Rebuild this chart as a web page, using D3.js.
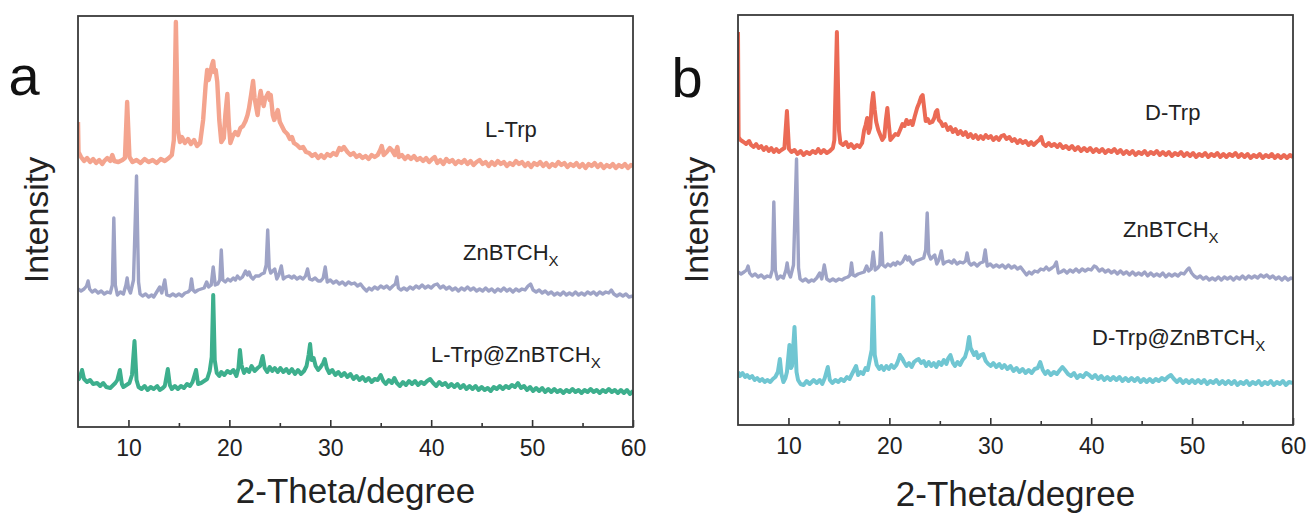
<!DOCTYPE html>
<html>
<head>
<meta charset="utf-8">
<script src="https://cdn.jsdelivr.net/npm/d3@7"></script>
<style>
html, body { margin: 0; padding: 0; background: #fff; }
svg { display: block; font-family: Arial, "Liberation Sans", Helvetica, sans-serif; }
</style>
</head>
<body>
<svg id="chart" width="1314" height="516"></svg>
<script>
// 2-theta (degree) vs intensity (a.u.)
var thetaTicks = [10, 20, 30, 40, 50, 60];
var thetaMinorTicks = [15, 25, 35, 45, 55];

var lTrp = [[5.0,305],[5.05,275],[5.3,270],[5.6,266],[5.9,269],[6.2,265],[6.5,268],[6.8,264],[7.1,267],[7.4,263],[7.6,266],[7.9,269],[8.2,266],[8.4,272],[8.6,266],[9.0,265],[9.4,267],[9.65,269],[9.87,325],[10.1,270],[10.4,265],[10.8,267],[11.2,264],[11.6,268],[12.0,265],[12.4,267],[12.8,264],[13.2,268],[13.6,266],[14.0,269],[14.3,272],[14.5,287],[14.7,405],[14.9,297],[15.1,285],[15.3,290],[15.6,284],[15.9,288],[16.2,283],[16.5,287],[16.8,281],[17.1,284],[17.4,307],[17.65,342],[17.8,357],[17.95,347],[18.1,353],[18.25,361],[18.4,366],[18.5,355],[18.65,357],[18.8,345],[19.0,307],[19.2,285],[19.45,289],[19.6,312],[19.8,333],[19.95,302],[20.1,284],[20.35,291],[20.6,295],[20.85,292],[21.1,299],[21.35,301],[21.6,306],[21.8,312],[21.95,319],[22.15,332],[22.35,346],[22.5,329],[22.65,320],[22.8,312],[22.95,327],[23.1,336],[23.25,327],[23.4,321],[23.55,329],[23.7,331],[23.85,334],[24.0,327],[24.1,332],[24.3,312],[24.45,307],[24.6,311],[24.8,317],[25.0,305],[25.2,301],[25.45,296],[25.75,293],[26.0,288],[26.2,290],[26.4,284],[26.7,282],[27.0,279],[27.3,280],[27.6,275],[27.9,274],[28.2,271],[28.5,273],[28.8,269],[29.1,272],[29.4,269],[29.7,273],[30.0,271],[30.3,274],[30.6,272],[30.9,279],[31.1,277],[31.35,280],[31.7,275],[32.0,272],[32.3,274],[32.6,270],[32.9,272],[33.2,269],[33.5,271],[33.8,268],[34.1,272],[34.4,270],[34.7,272],[34.95,277],[35.1,281],[35.3,272],[35.6,275],[35.9,279],[36.1,277],[36.4,272],[36.65,280],[36.8,270],[37.1,272],[37.4,268],[37.7,271],[38.0,268],[38.3,271],[38.6,267],[38.9,269],[39.2,266],[39.5,269],[39.8,265],[40.1,268],[40.35,270],[40.6,264],[40.9,267],[41.2,263],[41.5,268],[41.8,265],[42.1,267],[42.4,263],[42.7,266],[43.0,264],[43.3,267],[43.6,263],[43.9,266],[44.2,262],[44.5,265],[44.8,267],[45.1,263],[45.4,265],[45.7,261],[46.0,265],[46.3,262],[46.6,266],[46.9,263],[47.2,265],[47.5,261],[47.8,264],[48.1,262],[48.4,266],[48.7,263],[49.0,265],[49.3,261],[49.6,264],[49.9,260],[50.2,264],[50.5,262],[50.8,265],[51.1,261],[51.4,264],[51.7,260],[52.0,263],[52.3,261],[52.6,265],[52.9,262],[53.2,264],[53.5,260],[53.8,263],[54.1,261],[54.4,264],[54.7,260],[55.0,263],[55.3,259],[55.6,263],[55.9,261],[56.2,264],[56.5,260],[56.8,263],[57.1,259],[57.4,262],[57.7,260],[58.0,263],[58.3,259],[58.6,262],[58.9,260],[59.2,263],[59.5,259],[59.8,262],[60.0,261]];

var znbtchA = [[5.0,138],[5.3,136],[5.6,138],[5.85,141],[6.0,146],[6.15,138],[6.4,135],[6.7,137],[7.0,134],[7.3,136],[7.6,133],[7.9,135],[8.2,134],[8.4,142],[8.55,209],[8.7,142],[8.9,132],[9.2,135],[9.5,133],[9.75,142],[9.87,149],[10.0,139],[10.2,134],[10.5,147],[10.8,251],[11.0,145],[11.15,133],[11.4,131],[11.7,133],[12.0,130],[12.3,132],[12.5,130],[12.8,135],[13.1,140],[13.3,134],[13.6,147],[13.8,132],[14.1,131],[14.4,133],[14.7,131],[15.0,133],[15.3,131],[15.6,134],[15.9,135],[16.1,137],[16.25,148],[16.4,137],[16.6,135],[16.9,137],[17.2,138],[17.5,139],[17.75,145],[17.95,140],[18.2,142],[18.4,160],[18.6,142],[18.85,143],[19.05,147],[19.2,177],[19.35,147],[19.6,145],[19.85,148],[20.1,146],[20.4,149],[20.6,147],[20.8,151],[21.05,148],[21.3,150],[21.6,156],[21.8,152],[21.95,155],[22.15,150],[22.35,148],[22.6,151],[22.95,151],[23.2,153],[23.45,154],[23.65,162],[23.8,197],[23.95,159],[24.1,154],[24.3,156],[24.5,158],[24.7,148],[24.9,152],[25.15,161],[25.35,148],[25.6,150],[25.9,151],[26.2,149],[26.4,151],[26.7,148],[27.0,150],[27.3,148],[27.55,151],[27.75,158],[27.95,148],[28.2,147],[28.5,149],[28.8,146],[29.05,146],[29.3,149],[29.5,160],[29.7,145],[30.0,147],[30.3,144],[30.6,146],[30.9,143],[31.2,145],[31.5,142],[31.8,145],[32.1,143],[32.4,144],[32.7,141],[33.0,143],[33.3,139],[33.6,136],[33.85,139],[34.1,137],[34.4,140],[34.7,138],[35.0,141],[35.3,139],[35.6,141],[35.9,138],[36.2,141],[36.45,143],[36.6,150],[36.75,139],[37.0,137],[37.3,139],[37.6,137],[37.9,140],[38.2,138],[38.5,141],[38.8,139],[39.1,142],[39.4,139],[39.7,141],[40.0,139],[40.3,142],[40.6,143],[40.9,139],[41.2,141],[41.5,138],[41.8,140],[42.1,137],[42.4,139],[42.7,136],[43.0,139],[43.3,137],[43.6,140],[43.9,137],[44.2,139],[44.5,136],[44.8,138],[45.1,136],[45.4,139],[45.7,136],[46.0,138],[46.3,135],[46.6,138],[46.9,136],[47.2,139],[47.5,136],[47.8,138],[48.1,135],[48.4,138],[48.7,136],[49.0,138],[49.3,137],[49.6,141],[49.85,143],[50.1,137],[50.4,135],[50.7,137],[51.0,134],[51.3,136],[51.6,133],[51.9,135],[52.2,132],[52.5,134],[52.8,132],[53.1,135],[53.4,132],[53.7,134],[54.0,132],[54.3,135],[54.6,132],[54.9,134],[55.2,132],[55.5,135],[55.8,133],[56.1,135],[56.4,132],[56.7,135],[57.0,133],[57.3,135],[57.6,134],[57.85,137],[58.1,133],[58.4,131],[58.7,133],[59.0,131],[59.3,133],[59.6,130],[60.0,131]];

var lTrpZn = [[5.0,47],[5.15,49],[5.4,57],[5.6,48],[5.9,45],[6.2,47],[6.5,43],[6.9,44],[7.2,41],[7.5,44],[7.8,40],[8.2,39],[8.5,42],[8.7,44],[8.9,47],[9.15,57],[9.35,43],[9.5,40],[9.8,42],[10.1,44],[10.35,52],[10.6,86],[10.8,47],[11.0,40],[11.3,38],[11.6,41],[11.9,37],[12.2,40],[12.5,38],[12.85,41],[13.1,37],[13.4,39],[13.6,41],[13.9,58],[14.1,42],[14.3,38],[14.6,41],[14.9,38],[15.2,41],[15.5,39],[15.8,43],[16.1,41],[16.35,45],[16.7,57],[16.9,43],[17.2,44],[17.5,46],[17.8,48],[18.05,56],[18.25,70],[18.4,132],[18.55,67],[18.75,54],[19.0,51],[19.2,55],[19.5,52],[19.8,56],[20.1,54],[20.4,57],[20.7,51],[20.9,59],[21.05,77],[21.2,62],[21.45,54],[21.7,58],[21.95,55],[22.2,61],[22.5,56],[22.8,59],[23.05,61],[23.3,71],[23.5,59],[23.75,55],[24.0,60],[24.25,56],[24.5,59],[24.8,55],[25.05,59],[25.35,55],[25.65,58],[25.9,54],[26.2,58],[26.5,53],[26.8,57],[27.1,53],[27.4,56],[27.65,61],[27.85,72],[28.0,83],[28.15,67],[28.35,69],[28.55,61],[28.8,57],[29.05,60],[29.3,64],[29.45,68],[29.65,59],[29.9,54],[30.2,57],[30.5,52],[30.8,55],[31.1,51],[31.4,54],[31.7,50],[32.0,53],[32.3,48],[32.6,51],[32.9,47],[33.2,50],[33.5,46],[33.8,49],[34.1,45],[34.4,48],[34.7,47],[35.0,52],[35.25,46],[35.5,43],[35.8,47],[36.1,44],[36.35,49],[36.6,44],[36.9,41],[37.2,45],[37.5,42],[37.8,46],[38.1,43],[38.4,46],[38.7,42],[39.0,45],[39.3,43],[39.6,46],[39.9,48],[40.2,44],[40.5,41],[40.8,45],[41.1,42],[41.4,44],[41.7,40],[42.0,43],[42.3,40],[42.6,43],[42.9,39],[43.2,42],[43.5,38],[43.8,41],[44.1,38],[44.4,41],[44.7,37],[45.0,40],[45.3,37],[45.6,39],[45.9,36],[46.2,40],[46.5,38],[46.8,41],[47.1,38],[47.4,41],[47.7,39],[48.0,42],[48.3,40],[48.6,44],[48.9,39],[49.2,41],[49.5,37],[49.8,40],[50.1,36],[50.4,39],[50.7,36],[51.0,39],[51.3,35],[51.6,38],[51.9,35],[52.2,38],[52.5,35],[52.8,37],[53.1,34],[53.4,37],[53.7,35],[54.0,38],[54.3,35],[54.6,37],[54.9,34],[55.2,37],[55.5,35],[55.8,38],[56.1,35],[56.4,37],[56.7,34],[57.0,37],[57.3,35],[57.6,38],[57.9,35],[58.2,37],[58.5,34],[58.8,37],[59.1,34],[59.4,37],[59.7,33],[60.0,36]];

var dTrp = [[5.0,393],[5.06,288],[5.25,285],[5.55,283],[5.8,281],[6.1,284],[6.3,280],[6.55,278],[6.8,281],[7.05,277],[7.3,279],[7.55,275],[7.8,278],[8.05,274],[8.3,277],[8.55,273],[8.8,276],[9.05,273],[9.3,275],[9.6,277],[9.85,314],[10.05,276],[10.3,273],[10.6,275],[10.9,271],[11.2,274],[11.5,270],[11.8,273],[12.1,271],[12.4,274],[12.7,272],[12.95,276],[13.2,272],[13.5,275],[13.8,272],[14.1,274],[14.4,277],[14.55,285],[14.8,393],[15.0,295],[15.15,282],[15.4,280],[15.7,283],[15.95,278],[16.2,281],[16.5,277],[16.8,280],[17.05,278],[17.3,282],[17.5,295],[17.65,300],[17.8,307],[17.95,292],[18.1,297],[18.25,320],[18.4,332],[18.55,315],[18.7,303],[18.9,295],[19.1,290],[19.3,285],[19.5,288],[19.65,305],[19.8,317],[19.95,300],[20.1,285],[20.35,288],[20.6,291],[20.85,290],[21.1,296],[21.3,301],[21.5,299],[21.7,305],[21.9,301],[22.1,304],[22.3,300],[22.5,308],[22.75,317],[22.95,322],[23.15,328],[23.3,330],[23.45,317],[23.6,304],[23.8,306],[24.0,302],[24.25,303],[24.45,307],[24.6,313],[24.75,315],[24.9,305],[25.1,303],[25.3,299],[25.55,301],[25.8,295],[26.05,298],[26.3,293],[26.55,296],[26.8,291],[27.05,294],[27.3,290],[27.55,293],[27.8,288],[28.05,291],[28.3,287],[28.55,290],[28.8,286],[29.05,289],[29.3,286],[29.55,290],[29.8,287],[30.05,289],[30.3,285],[30.6,288],[30.85,285],[31.1,289],[31.35,290],[31.6,286],[31.9,288],[32.15,284],[32.4,286],[32.7,282],[32.95,285],[33.2,282],[33.5,284],[33.8,280],[34.05,283],[34.3,280],[34.6,283],[34.85,285],[35.05,288],[35.25,281],[35.5,279],[35.8,282],[36.05,279],[36.35,281],[36.65,278],[36.9,281],[37.2,277],[37.5,279],[37.8,276],[38.1,279],[38.4,275],[38.7,278],[39.0,274],[39.3,277],[39.6,274],[39.9,277],[40.2,273],[40.5,276],[40.8,273],[41.1,276],[41.4,272],[41.7,275],[42.0,273],[42.3,276],[42.6,272],[42.9,275],[43.2,271],[43.5,274],[43.8,271],[44.1,274],[44.4,270],[44.7,273],[45.0,271],[45.3,274],[45.6,270],[45.9,273],[46.2,271],[46.5,274],[46.8,270],[47.1,273],[47.4,270],[47.7,273],[48.0,269],[48.3,272],[48.6,270],[48.9,273],[49.2,269],[49.5,272],[49.8,269],[50.1,272],[50.4,268],[50.7,271],[51.0,269],[51.3,272],[51.6,268],[51.9,271],[52.2,269],[52.5,272],[52.8,268],[53.1,271],[53.4,268],[53.7,271],[54.0,269],[54.3,272],[54.6,268],[54.9,271],[55.2,268],[55.5,271],[55.8,267],[56.1,270],[56.4,268],[56.7,271],[57.0,267],[57.3,270],[57.6,268],[57.9,271],[58.2,267],[58.5,270],[58.8,267],[59.1,270],[59.4,267],[59.7,270],[60.0,268]];

var znbtchB = [[5.0,153],[5.3,151],[5.6,153],[5.85,155],[6.0,159],[6.15,152],[6.4,149],[6.7,151],[7.0,148],[7.3,150],[7.6,147],[7.9,149],[8.2,148],[8.4,155],[8.55,223],[8.7,155],[8.9,146],[9.2,149],[9.5,147],[9.75,155],[9.87,162],[10.0,153],[10.2,148],[10.5,160],[10.8,266],[11.0,157],[11.15,146],[11.4,144],[11.7,146],[12.0,143],[12.3,145],[12.5,144],[12.8,147],[13.1,152],[13.3,146],[13.55,160],[13.8,146],[14.1,144],[14.4,146],[14.7,144],[15.0,146],[15.3,145],[15.6,147],[15.9,148],[16.1,150],[16.25,162],[16.4,150],[16.6,149],[16.9,151],[17.2,152],[17.5,153],[17.75,159],[17.95,154],[18.2,156],[18.4,173],[18.6,155],[18.85,157],[19.05,160],[19.2,192],[19.35,160],[19.6,158],[19.85,161],[20.1,159],[20.4,162],[20.6,160],[20.8,163],[21.05,161],[21.3,163],[21.6,169],[21.8,165],[21.95,168],[22.15,163],[22.35,161],[22.6,164],[22.9,165],[23.15,166],[23.4,167],[23.6,175],[23.75,212],[23.9,171],[24.1,166],[24.3,168],[24.5,170],[24.7,161],[24.9,165],[25.15,174],[25.35,161],[25.6,163],[25.9,164],[26.2,162],[26.4,165],[26.7,161],[27.0,163],[27.3,162],[27.55,164],[27.7,172],[27.9,162],[28.1,160],[28.4,162],[28.7,159],[29.0,162],[29.3,163],[29.5,175],[29.7,159],[30.0,161],[30.3,158],[30.6,160],[30.9,158],[31.2,160],[31.5,157],[31.8,160],[32.1,157],[32.4,159],[32.7,156],[33.0,158],[33.3,154],[33.6,150],[33.85,153],[34.1,151],[34.4,154],[34.7,153],[35.0,156],[35.3,155],[35.55,158],[35.8,155],[36.1,157],[36.35,159],[36.55,163],[36.75,152],[37.0,153],[37.3,155],[37.6,152],[37.9,155],[38.2,153],[38.5,156],[38.8,153],[39.1,156],[39.4,154],[39.7,156],[40.0,155],[40.3,159],[40.5,158],[40.8,154],[41.1,156],[41.4,153],[41.7,155],[42.0,152],[42.3,154],[42.6,151],[42.9,154],[43.2,151],[43.5,153],[43.8,150],[44.1,153],[44.4,150],[44.7,152],[45.0,150],[45.3,153],[45.6,149],[45.9,152],[46.2,149],[46.5,151],[46.8,149],[47.1,152],[47.4,148],[47.7,151],[48.0,149],[48.3,151],[48.6,149],[48.9,152],[49.2,151],[49.5,155],[49.7,157],[49.95,152],[50.2,149],[50.5,147],[50.8,149],[51.1,146],[51.4,148],[51.7,145],[52.0,147],[52.3,145],[52.6,148],[52.9,145],[53.2,148],[53.5,146],[53.8,148],[54.1,145],[54.4,148],[54.7,146],[55.0,149],[55.3,146],[55.6,149],[55.9,147],[56.2,149],[56.5,147],[56.8,150],[57.1,148],[57.4,150],[57.7,147],[58.0,149],[58.3,146],[58.6,148],[58.9,145],[59.2,148],[59.5,145],[59.8,147],[60.0,146]];

var dTrpZn = [[5.0,53],[5.2,49],[5.45,52],[5.7,48],[5.9,50],[6.15,47],[6.4,49],[6.65,45],[6.9,47],[7.15,44],[7.4,46],[7.65,43],[7.9,45],[8.2,43],[8.45,46],[8.7,48],[8.95,53],[9.15,66],[9.3,51],[9.5,43],[9.7,47],[9.85,53],[10.1,80],[10.25,57],[10.35,59],[10.6,98],[10.8,53],[10.95,45],[11.2,41],[11.5,40],[11.8,44],[12.1,41],[12.5,45],[12.8,42],[13.1,45],[13.35,41],[13.6,47],[13.9,58],[14.1,45],[14.35,42],[14.65,45],[14.95,43],[15.2,46],[15.5,44],[15.8,48],[16.05,46],[16.3,51],[16.7,59],[16.9,50],[17.15,53],[17.4,51],[17.65,57],[17.85,55],[18.05,65],[18.25,75],[18.4,128],[18.55,70],[18.75,60],[19.0,56],[19.2,59],[19.45,55],[19.7,59],[19.95,56],[20.2,60],[20.45,57],[20.7,60],[20.9,65],[21.05,70],[21.25,67],[21.45,63],[21.7,59],[21.95,62],[22.2,58],[22.45,63],[22.7,65],[22.9,66],[23.15,62],[23.4,64],[23.65,59],[23.9,63],[24.15,59],[24.4,62],[24.65,58],[24.9,63],[25.15,60],[25.4,65],[25.65,61],[25.85,67],[26.05,70],[26.3,62],[26.5,59],[26.75,63],[27.0,60],[27.25,65],[27.5,68],[27.7,75],[27.9,88],[28.05,77],[28.2,74],[28.4,70],[28.6,73],[28.8,67],[29.05,70],[29.3,71],[29.55,64],[29.8,61],[30.05,59],[30.3,62],[30.6,58],[30.9,61],[31.15,57],[31.4,60],[31.7,56],[32.0,59],[32.3,54],[32.6,57],[32.9,53],[33.2,56],[33.5,52],[33.8,55],[34.1,52],[34.4,56],[34.7,57],[34.95,63],[35.2,55],[35.45,51],[35.7,54],[36.0,50],[36.3,53],[36.6,51],[36.9,55],[37.15,58],[37.4,55],[37.7,51],[38.0,49],[38.3,52],[38.6,47],[38.9,50],[39.2,48],[39.5,52],[39.8,50],[40.1,47],[40.4,50],[40.7,46],[41.0,49],[41.3,45],[41.6,48],[41.9,45],[42.2,48],[42.5,45],[42.8,48],[43.1,44],[43.4,47],[43.7,44],[44.0,47],[44.3,44],[44.6,47],[44.9,43],[45.2,46],[45.5,43],[45.8,46],[46.1,43],[46.4,46],[46.7,44],[47.0,47],[47.3,45],[47.6,48],[47.9,50],[48.2,46],[48.5,43],[48.8,46],[49.1,42],[49.4,45],[49.7,42],[50.0,45],[50.3,42],[50.6,45],[50.9,42],[51.2,45],[51.5,41],[51.8,44],[52.1,42],[52.4,45],[52.7,41],[53.0,44],[53.3,41],[53.6,44],[53.9,41],[54.2,44],[54.5,40],[54.8,43],[55.1,41],[55.4,44],[55.7,40],[56.0,43],[56.3,41],[56.6,44],[56.9,40],[57.2,43],[57.5,41],[57.8,44],[58.1,40],[58.4,43],[58.7,41],[59.0,44],[59.3,40],[59.6,43],[60.0,42]];

// panel layout
var panels = [
    {
        letter: 'a', left: 78, right: 633, top: 16, bottom: 427, yMax: 411,
        letterX: 24, letterY: 95, titleY: 503,
        series: [
            {data: lTrp, color: '#f4a48e', width: 4.4, name: 'L-Trp', sub: false, lx: 485, ly: 137},
            {data: znbtchA, color: '#9ea3c6', width: 3.4, name: 'ZnBTCH', sub: true, lx: 463, ly: 260},
            {data: lTrpZn, color: '#3daf8d', width: 4.0, name: 'L-Trp@ZnBTCH', sub: true, lx: 431, ly: 362}
        ]
    },
    {
        letter: 'b', left: 738, right: 1293, top: 15, bottom: 425, yMax: 410,
        letterX: 687, letterY: 97, titleY: 506,
        series: [
            {data: dTrp, color: '#eb6a55', width: 4.0, name: 'D-Trp', sub: false, lx: 1145, ly: 120},
            {data: znbtchB, color: '#9ea3c6', width: 3.4, name: 'ZnBTCH', sub: true, lx: 1123, ly: 237},
            {data: dTrpZn, color: '#70c6d2', width: 4.0, name: 'D-Trp@ZnBTCH', sub: true, lx: 1092, ly: 345}
        ]
    }
];

var svg = d3.select('#chart');
var ink = '#222';

panels.forEach(function(p, i) {
    var x = d3.scaleLinear().domain([5, 60]).range([p.left, p.right]);
    var y = d3.scaleLinear().domain([0, p.yMax]).range([p.bottom, p.top]);
    var g = svg.append('g').attr('class', 'panel-' + p.letter);

    g.append('clipPath').attr('id', 'clip' + i)
      .append('rect')
        .attr('x', p.left).attr('y', p.top)
        .attr('width', p.right - p.left).attr('height', p.bottom - p.top);

    var line = d3.line()
        .x(function(d) { return x(d[0]); })
        .y(function(d) { return y(d[1]); });

    g.append('g').attr('clip-path', 'url(#clip' + i + ')')
      .selectAll('path.trace')
        .data(p.series)
      .enter().append('path')
        .attr('class', 'trace')
        .attr('d', function(s) { return line(s.data); })
        .attr('fill', 'none')
        .attr('stroke', function(s) { return s.color; })
        .attr('stroke-width', function(s) { return s.width; })
        .attr('stroke-linejoin', 'round');

    // ticks point inward
    var major = g.append('g')
        .attr('transform', 'translate(0,' + p.bottom + ')')
        .call(d3.axisBottom(x).tickValues(thetaTicks).tickSize(-7).tickPadding(13).tickFormat(d3.format('d')));
    major.select('.domain').remove();
    major.selectAll('line').attr('stroke', '#333').attr('stroke-width', 1.6);
    major.selectAll('text')
        .attr('fill', ink)
        .style('font-size', '23px')
        .style('font-family', 'Arial, "Liberation Sans", Helvetica, sans-serif');

    var minor = g.append('g')
        .attr('transform', 'translate(0,' + p.bottom + ')')
        .call(d3.axisBottom(x).tickValues(thetaMinorTicks).tickSize(-4).tickFormat(''));
    minor.select('.domain').remove();
    minor.selectAll('line').attr('stroke', '#333').attr('stroke-width', 1.6);

    g.append('rect')
        .attr('x', p.left).attr('y', p.top)
        .attr('width', p.right - p.left).attr('height', p.bottom - p.top)
        .attr('fill', 'none').attr('stroke', '#3a3a3a').attr('stroke-width', 1.8);

    // sample labels
    p.series.forEach(function(s) {
        var t = g.append('text')
            .attr('x', s.lx).attr('y', s.ly)
            .attr('fill', ink)
            .style('font-size', '22px');
        t.append('tspan').text(s.name);
        if (s.sub) {
            t.append('tspan').attr('dy', 6).style('font-size', '15px').text('X');
        }
    });

    g.append('text')
        .attr('x', (p.left + p.right) / 2).attr('y', p.titleY)
        .attr('text-anchor', 'middle')
        .attr('fill', ink)
        .style('font-size', '35px')
        .text('2-Theta/degree');

    g.append('text')
        .attr('transform', 'translate(' + (p.left - 30) + ',220) rotate(-90)')
        .attr('text-anchor', 'middle')
        .attr('fill', ink)
        .style('font-size', '34px')
        .text('Intensity');

    g.append('text')
        .attr('x', p.letterX).attr('y', p.letterY)
        .attr('text-anchor', 'middle')
        .attr('fill', '#111')
        .style('font-size', '56px')
        .text(p.letter);
});
</script>
</body>
</html>
